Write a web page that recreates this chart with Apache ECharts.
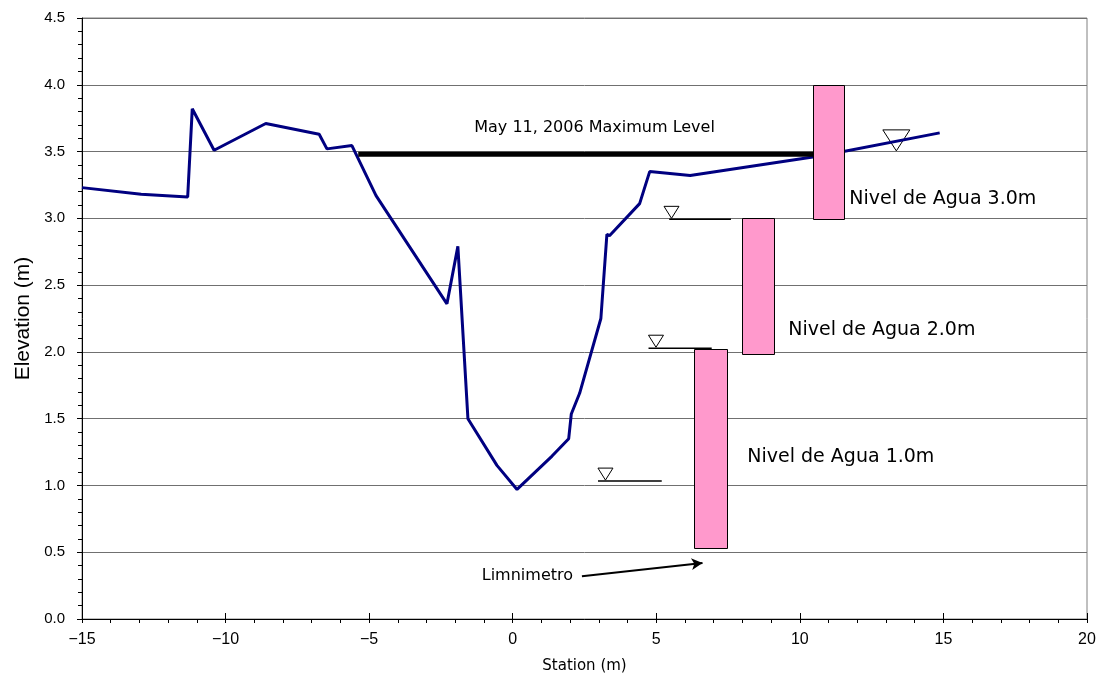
<!DOCTYPE html>
<html>
<head>
<meta charset="utf-8">
<script src="https://cdn.jsdelivr.net/npm/echarts@6/dist/echarts.min.js"></script>
<style>
html,body{margin:0;padding:0;background:#fff;}
#chart{width:1103px;height:679px;}
</style>
</head>
<body>
<div id="chart"></div>
<script>
// ---------- DATA ----------
// Ground profile (station m, elevation m)
const stationX   = [-15, -12.94, -11.32, -11.16, -10.40, -8.60, -6.74, -6.47, -5.60, -4.76, -2.29, -1.91, -1.56, -0.55, 0.15, 1.37, 1.95, 2.04, 2.33, 3.07, 3.28, 3.37, 4.42, 4.77, 6.18, 10.8, 14.87];
const elevationY = [3.23, 3.18, 3.16, 3.82, 3.51, 3.71, 3.63, 3.52, 3.545, 3.17, 2.36, 2.79, 1.50, 1.15, 0.97, 1.22, 1.35, 1.535, 1.69, 2.25, 2.88, 2.87, 3.11, 3.35, 3.32, 3.47, 3.64];

// May 11, 2006 maximum level
const maxLevelX = [-5.38, 10.47];
const maxLevelY = 3.48;

// Staff gauges (limnimetro) : x range and elevation range
const gaugeLeft   = [6.30, 8.00, 10.47];
const gaugeRight  = [7.44, 9.12, 11.55];
const gaugeBottom = [0.53, 1.98, 3.00];
const gaugeTop    = [2.02, 3.00, 4.00];

// Water level markers (apex station, level, underline from/to)
const markerX        = [13.36, 5.53, 4.99, 3.23];
const markerY        = [3.505, 3.00, 2.035, 1.04];
const markerLineFrom = [13.36, 5.45, 4.73, 2.97];
const markerLineTo   = [13.36, 7.60, 6.93, 5.19];

// Annotations
const labelText = ['May 11, 2006 Maximum Level', 'Nivel de Agua 3.0m', 'Nivel de Agua 2.0m', 'Nivel de Agua 1.0m', 'Limnimetro'];
const labelX    = [2.85, 11.72, 9.60, 8.17, 2.10];
const labelY    = [3.68, 3.145, 2.165, 1.21, 0.32];

// Arrow pointing at the gauge
const arrowFrom = [2.41, 0.32];
const arrowTo   = [6.61, 0.42];

// Axis ticks
const xTicks = { min: -15, max: 20, step: 5 };
const yTicks = { min: 0, max: 4.5, step: 0.5 };

// ---------- STYLES ----------
const MARKER_PX = [[27, 21], [15, 12], [15, 12], [15, 12]];
const LABEL_ALIGN = ['center', 'left', 'left', 'left', 'right'];
const LABEL_SIZE = [16, 19, 19, 19, 16];
const JP_FONT = '"DejaVu Sans", sans-serif';
const AR_FONT = '"Liberation Sans", Arial, sans-serif';

const chart = echarts.init(document.getElementById('chart'), null, { renderer: 'canvas' });

const option = {
  animation: false,
  backgroundColor: '#fff',
  grid: { left: 82, right: 16, top: 18, bottom: 60, show: true, borderColor: '#808080', borderWidth: 1 },
  xAxis: [
    {
      type: 'value', min: xTicks.min, max: xTicks.max, interval: xTicks.step,
      axisLine: { show: true, onZero: false, lineStyle: { color: '#000', width: 1 } },
      axisTick: { show: true, inside: false, length: 4, lineStyle: { color: '#000' } },
      minorTick: { show: true, splitNumber: 5, length: 4, lineStyle: { color: '#000' } },
      splitLine: { show: false },
      axisLabel: {
        color: '#000', fontSize: 16, fontFamily: AR_FONT, margin: 13,
        formatter: v => (v < 0 ? '\u2212' + Math.abs(v) : String(v))
      },
      name: 'Station (m)', nameLocation: 'middle', nameGap: 40,
      nameTextStyle: { color: '#000', fontSize: 15, fontFamily: JP_FONT }
    },
    {
      type: 'value', min: xTicks.min, max: xTicks.max, interval: xTicks.step, position: 'bottom',
      axisLine: { show: false, onZero: false },
      axisTick: { show: true, inside: true, length: 6, lineStyle: { color: '#000' } },
      axisLabel: { show: false }, splitLine: { show: false }
    }
  ],
  yAxis: {
    type: 'value', min: yTicks.min, max: yTicks.max, interval: yTicks.step,
    axisLine: { show: true, onZero: false, lineStyle: { color: '#000', width: 1 } },
    axisTick: { show: true, inside: false, length: 5, lineStyle: { color: '#000' } },
    minorTick: { show: true, splitNumber: 5, length: 4, lineStyle: { color: '#000' } },
    splitLine: { show: true, lineStyle: { color: '#707070', width: 1 } },
    axisLabel: { color: '#000', fontSize: 15, fontFamily: AR_FONT, margin: 17, formatter: v => v.toFixed(1) },
    name: 'Elevation (m)', nameLocation: 'middle', nameGap: 47, nameRotate: 90,
    nameTextStyle: { color: '#000', fontSize: 21, fontFamily: AR_FONT }
  },
  series: [
    {
      name: 'markers', type: 'custom', z: 2,
      data: markerX.map((x, i) => [x, markerY[i], markerLineFrom[i], markerLineTo[i], i]),
      encode: { x: [0, 2, 3], y: 1 },
      renderItem: (params, api) => {
        const i = api.value(4);
        const apex = api.coord([api.value(0), api.value(1)]);
        const from = api.coord([api.value(2), api.value(1)]);
        const to = api.coord([api.value(3), api.value(1)]);
        const [w, h] = MARKER_PX[i];
        const children = [{
          type: 'polygon',
          shape: { points: [[apex[0] - w / 2, apex[1] - h], [apex[0] + w / 2, apex[1] - h], [apex[0], apex[1]]] },
          style: { fill: '#fff', stroke: '#000', lineWidth: 1 }
        }];
        if (to[0] - from[0] > 1) {
          children.push({
            type: 'line',
            shape: { x1: from[0], y1: apex[1] + 1, x2: to[0], y2: apex[1] + 1 },
            style: { stroke: '#000', lineWidth: 1.5 }
          });
        }
        return { type: 'group', children };
      }
    },
    {
      name: 'profile', type: 'line', z: 3,
      data: stationX.map((x, i) => [x, elevationY[i]]),
      showSymbol: false, symbol: 'none',
      lineStyle: { color: '#000080', width: 3 }
    },
    {
      name: 'maxLevel', type: 'line', z: 3,
      data: maxLevelX.map(x => [x, maxLevelY]),
      showSymbol: false, symbol: 'none',
      lineStyle: { color: '#000', width: 5 }
    },
    {
      name: 'gauges', type: 'custom', z: 4,
      data: gaugeLeft.map((l, i) => [l, gaugeRight[i], gaugeBottom[i], gaugeTop[i]]),
      encode: { x: [0, 1], y: [2, 3] },
      renderItem: (params, api) => {
        const a = api.coord([api.value(0), api.value(3)]);
        const b = api.coord([api.value(1), api.value(2)]);
        return {
          type: 'rect',
          shape: { x: Math.round(a[0]) + 0.5, y: Math.round(a[1]) + 0.5, width: Math.round(b[0] - a[0]), height: Math.round(b[1] - a[1]) },
          style: { fill: '#FF99CC', stroke: '#000', lineWidth: 1 }
        };
      }
    },
    {
      name: 'labels', type: 'custom', z: 5,
      data: labelX.map((x, i) => [x, labelY[i], i]),
      encode: { x: 0, y: 1 },
      renderItem: (params, api) => {
        const i = api.value(2);
        const p = api.coord([api.value(0), api.value(1)]);
        return {
          type: 'text', x: p[0], y: p[1],
          style: {
            text: labelText[i], fill: '#000',
            fontSize: LABEL_SIZE[i], fontFamily: JP_FONT,
            align: LABEL_ALIGN[i], verticalAlign: 'middle',
            textAlign: LABEL_ALIGN[i], textVerticalAlign: 'middle'
          }
        };
      }
    },
    {
      name: 'arrow', type: 'line', z: 5, data: [],
      markLine: {
        silent: true, animation: false,
        symbol: ['none', 'arrow'], symbolSize: [9, 11],
        label: { show: false },
        lineStyle: { color: '#000', width: 2, type: 'solid' },
        data: [[{ coord: arrowFrom }, { coord: arrowTo }]]
      }
    }
  ]
};
chart.setOption(option);
</script>
</body>
</html>
